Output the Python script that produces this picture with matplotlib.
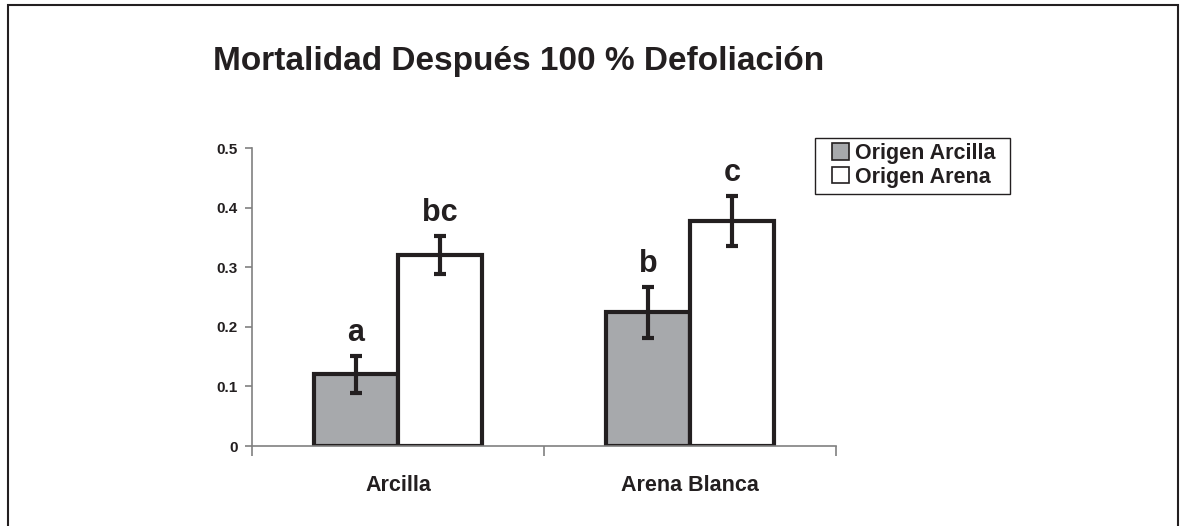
import matplotlib
matplotlib.use("Agg")
import matplotlib.pyplot as plt
import matplotlib.patches as mpatches
import numpy as np

plt.rcParams['font.family'] = ['Liberation Sans', 'DejaVu Sans']
plt.rcParams['font.weight'] = 'bold'

# data
categories = ['Arcilla', 'Arena Blanca']
series_names = ['Origen Arcilla', 'Origen Arena']
origen_arcilla = [0.12, 0.224]
origen_arena = [0.32, 0.377]
err_arcilla = [0.031, 0.042]
err_arena = [0.032, 0.042]
letters_arcilla = ['a', 'b']
letters_arena = ['bc', 'c']

gray = '#a7a9ac'
axis_gray = '#808080'
ink = '#231f20'

fig = plt.figure(figsize=(11.8, 5.26), dpi=100)
ax = fig.add_axes([252 / 1180, 1 - 446 / 526, (836 - 252) / 1180, (446 - 148) / 526])

x = np.arange(len(categories))
w = 0.288

ebkw = dict(ecolor=ink, elinewidth=3, capsize=4.5, capthick=3)
b1 = ax.bar(x - w / 2, origen_arcilla, w, color=gray, edgecolor=ink,
            linewidth=3, yerr=err_arcilla, error_kw=ebkw, label=series_names[0], zorder=2)
b2 = ax.bar(x + w / 2, origen_arena, w, color='white', edgecolor=ink,
            linewidth=3, yerr=err_arena, error_kw=ebkw, label=series_names[1], zorder=2)

# significance letters above the error bars
for xi, v, e, t in zip(x - w / 2, origen_arcilla, err_arcilla, letters_arcilla):
    ax.text(xi, v + e + 0.026, t, ha='center', va='baseline', fontsize=22,
            fontweight='bold', color=ink)
for xi, v, e, t in zip(x + w / 2, origen_arena, err_arena, letters_arena):
    ax.text(xi, v + e + 0.026, t, ha='center', va='baseline', fontsize=22,
            fontweight='bold', color=ink)

ax.set_xlim(-0.5, len(categories) - 0.5)
ax.set_ylim(0, 0.5)
ax.set_yticks([0, 0.1, 0.2, 0.3, 0.4, 0.5])
ax.set_yticklabels(['0', '0.1', '0.2', '0.3', '0.4', '0.5'])
ax.set_xticks(x)
ax.set_xticklabels(categories)
ax.set_xticks(np.arange(-0.5, len(categories), 1.0), minor=True)

for s in ['top', 'right']:
    ax.spines[s].set_visible(False)
for s in ['left', 'bottom']:
    ax.spines[s].set_color(axis_gray)
    ax.spines[s].set_linewidth(1.2)

ax.tick_params(axis='y', direction='out', length=5, width=1.2, color=axis_gray,
               labelsize=11, pad=5, labelcolor=ink)
ax.tick_params(axis='x', which='major', length=0, labelsize=15.5, pad=21,
               labelcolor=ink)
ax.tick_params(axis='x', which='minor', direction='out', length=7, width=1.2,
               color=axis_gray)
for lbl in ax.get_xticklabels() + ax.get_yticklabels():
    lbl.set_fontweight('bold')

# legend without its own frame; the box is drawn separately (Excel style)
leg = fig.legend(handles=[b1, b2], loc='upper left',
                 bbox_to_anchor=(832 / 1180, 1 - 143 / 526),
                 fontsize=15.5, frameon=False, borderpad=0,
                 handlelength=0.8, handleheight=0.8, handletextpad=0.25,
                 labelspacing=0.12, borderaxespad=0)
for h in leg.legend_handles:
    h.set_linewidth(1.2)
for t in leg.get_texts():
    t.set_fontweight('bold')
    t.set_color(ink)
legbox = mpatches.Rectangle((815 / 1180, 1 - 194 / 526), (1010 - 815) / 1180, 56 / 526,
                            transform=fig.transFigure, fill=False,
                            edgecolor=ink, linewidth=1.0)
fig.patches.append(legbox)

fig.text(519 / 1180, 1 - 70 / 526, 'Mortalidad Después 100 % Defoliación',
         ha='center', va='baseline', fontsize=24, fontweight='bold', color=ink)

border = mpatches.Rectangle((8 / 1180, -0.1), (1178 - 8) / 1180, 1.1 - 5 / 526,
                            transform=fig.transFigure, fill=False,
                            edgecolor=ink, linewidth=1.5, clip_on=False)
fig.patches.append(border)

fig.savefig('out.png', dpi=100)
